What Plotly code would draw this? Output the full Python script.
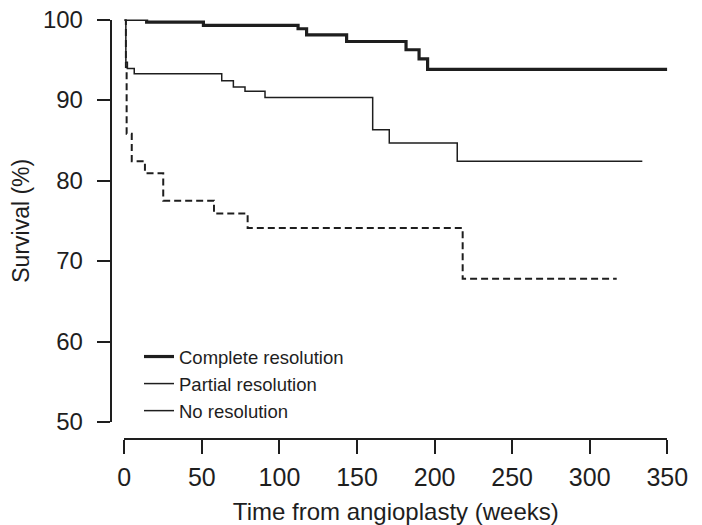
import plotly.graph_objects as go

# Kaplan-Meier step data (weeks, survival %)
complete_t = [0, 14.4, 51, 112, 117.5, 143.3, 181.6, 190, 195.5, 350]
complete_s = [100, 99.67, 99.26, 98.85, 98.1, 97.27, 96.24, 95.1, 93.8, 93.8]

partial_t = [0, 1, 2, 6.4, 62.8, 70.3, 77.8, 90.7, 160.1, 170.8, 214.6, 333.9]
partial_s = [100, 94.7, 93.9, 93.26, 92.4, 91.6, 91.1, 90.3, 86.3, 84.65, 82.4, 82.4]

none_t = [0, 1, 1.5, 4.8, 13.3, 25.1, 57.8, 79.5, 218.1, 317.4]
none_s = [100, 94.1, 85.8, 82.4, 80.9, 77.5, 75.9, 74.1, 67.8, 67.8]

x_ticks = [0, 50, 100, 150, 200, 250, 300, 350]
y_ticks = [50, 60, 70, 80, 90, 100]

INK = "#1e1e1e"
OFF = 8  # page body margin
W, H = 702 - 2 * OFF, 525 - OFF


def fx(px):
    return (px - OFF) / W


def fy(py):
    return 1 - (py - OFF) / H


fig = go.Figure()
fig.add_trace(go.Scatter(x=none_t, y=none_s, mode="lines", line_shape="hv",
                         line=dict(color=INK, width=2, dash="7px,4px"),
                         showlegend=False, cliponaxis=False, hoverinfo="skip"))
fig.add_trace(go.Scatter(x=partial_t, y=partial_s, mode="lines", line_shape="hv",
                         line=dict(color=INK, width=1.5),
                         showlegend=False, cliponaxis=False))
fig.add_trace(go.Scatter(x=complete_t, y=complete_s, mode="lines", line_shape="hv",
                         line=dict(color=INK, width=3.2),
                         showlegend=False, cliponaxis=False))
# legend entries (legend in the reference shows solid lines)
fig.add_trace(go.Scatter(x=[None], y=[None], mode="lines", name="Complete resolution",
                         line=dict(color=INK, width=3.2)))
fig.add_trace(go.Scatter(x=[None], y=[None], mode="lines", name="Partial resolution",
                         line=dict(color=INK, width=1.5)))
fig.add_trace(go.Scatter(x=[None], y=[None], mode="lines", name="No resolution",
                         line=dict(color=INK, width=1.5)))

font_family = "Liberation Sans, Arial, sans-serif"

fig.update_layout(
    width=W, height=H,
    margin=dict(l=0, r=0, t=0, b=0),
    paper_bgcolor="white", plot_bgcolor="white",
    font=dict(family=font_family, color=INK, size=22),
    xaxis=dict(
        domain=[fx(124.3), fx(667.3)], range=[0, 350],
        anchor="free", position=fy(439),
        tickvals=x_ticks, ticks="outside", ticklen=14, tickwidth=1.5, tickcolor=INK,
        showline=True, linewidth=1.5, linecolor=INK,
        showgrid=False, zeroline=False, automargin=False,
        tickfont=dict(size=25), ticklabelstandoff=2, ticklabeloverflow="allow",
        title=dict(text="Time from angioplasty (weeks)", font=dict(size=24), standoff=12),
    ),
    yaxis=dict(
        domain=[fy(422), fy(19.5)], range=[50, 100],
        anchor="free", position=fx(110.5),
        tickvals=y_ticks, ticks="outside", ticklen=13, tickwidth=1.5, tickcolor=INK,
        showline=True, linewidth=1.5, linecolor=INK,
        showgrid=False, zeroline=False, automargin=False,
        tickfont=dict(size=24), ticklabelstandoff=9, ticklabeloverflow="allow",
        title=dict(text="Survival (%)", font=dict(size=23), standoff=10),
    ),
    legend=dict(
        x=fx(139), y=fy(338), xanchor="left", yanchor="top",
        bgcolor="rgba(0,0,0,0)", font=dict(size=18.5, color=INK),
        itemwidth=30, tracegroupgap=0,
    ),
)

fig.write_html("out.html")
